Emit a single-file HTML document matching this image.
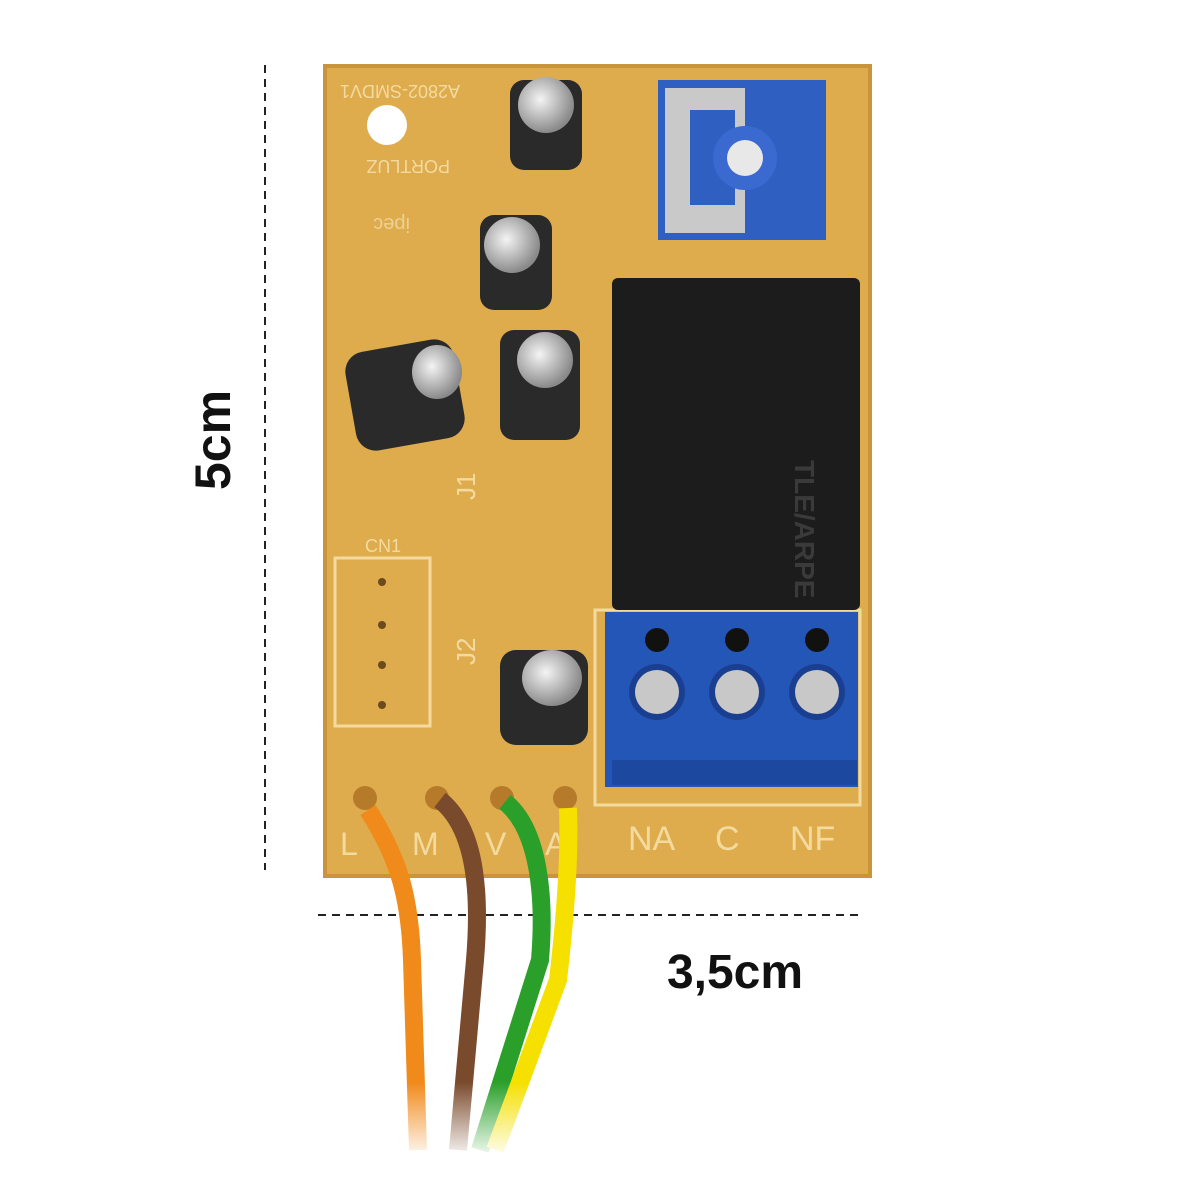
<!DOCTYPE html>
<html><head><meta charset="utf-8"><style>
html,body{margin:0;padding:0;background:#fff;}
svg{display:block}
text{font-family:"Liberation Sans",sans-serif}
</style></head><body>
<svg width="1200" height="1200" viewBox="0 0 1200 1200" xmlns="http://www.w3.org/2000/svg">
<defs>
<linearGradient id="fade" x1="0" y1="0" x2="0" y2="1">
<stop offset="0.7" stop-color="#fff" stop-opacity="0"/><stop offset="1" stop-color="#fff" stop-opacity="1"/>
</linearGradient>
<radialGradient id="capTop" cx="0.4" cy="0.4" r="0.6"><stop offset="0" stop-color="#f4f4f4"/><stop offset="1" stop-color="#8a8a8a"/></radialGradient>
</defs>
<line x1="265" y1="65" x2="265" y2="870" stroke="#222" stroke-width="2" stroke-dasharray="8,6"/>
<line x1="318" y1="915" x2="862" y2="915" stroke="#222" stroke-width="2" stroke-dasharray="8,6"/>
<text x="0" y="0" transform="translate(230,440) rotate(-90)" font-size="50" font-weight="bold" text-anchor="middle" fill="#111">5cm</text>
<text x="735" y="988" font-size="48" font-weight="bold" text-anchor="middle" fill="#111">3,5cm</text>
<rect x="325" y="66" width="545" height="810" fill="#dfac4d"/>
<rect x="325" y="66" width="545" height="810" fill="none" stroke="#c8953c" stroke-width="4"/>
<circle cx="387" cy="125" r="20" fill="#fff"/>
<text x="0" y="0" transform="translate(460,85) rotate(180)" font-size="18" fill="#f3dba0">A2802-SMDV1</text>
<text x="0" y="0" transform="translate(450,160) rotate(180)" font-size="18" fill="#f3dba0">PORTLUZ</text>
<text x="0" y="0" transform="translate(410,218) rotate(180)" font-size="20" fill="#ecd094">ipec</text>
<rect x="335" y="558" width="95" height="168" fill="none" stroke="#f3dba0" stroke-width="3"/>
<text x="365" y="552" font-size="18" fill="#f3dba0">CN1</text>
<circle cx="382" cy="582" r="4" fill="#6b4a1e"/><circle cx="382" cy="625" r="4" fill="#6b4a1e"/><circle cx="382" cy="665" r="4" fill="#6b4a1e"/><circle cx="382" cy="705" r="4" fill="#6b4a1e"/>
<text x="0" y="0" transform="translate(475,665) rotate(-90)" font-size="26" fill="#f3dba0">J2</text>
<text x="0" y="0" transform="translate(475,500) rotate(-90)" font-size="26" fill="#f3dba0">J1</text>
<rect x="595" y="610" width="265" height="195" fill="none" stroke="#f3dba0" stroke-width="3"/>
<g>
<rect x="510" y="80" width="72" height="90" rx="14" fill="#2a2a2a"/><ellipse cx="546" cy="105" rx="28" ry="28" fill="url(#capTop)"/>
<rect x="480" y="215" width="72" height="95" rx="14" fill="#2a2a2a"/><ellipse cx="512" cy="245" rx="28" ry="28" fill="url(#capTop)"/>
<rect x="500" y="330" width="80" height="110" rx="14" fill="#2a2a2a"/><ellipse cx="545" cy="360" rx="28" ry="28" fill="url(#capTop)"/>
<rect x="350" y="345" width="110" height="100" rx="20" fill="#2a2a2a" transform="rotate(-10 405 395)"/><ellipse cx="437" cy="372" rx="25" ry="27" fill="url(#capTop)"/>
<rect x="500" y="650" width="88" height="95" rx="16" fill="#2a2a2a"/><ellipse cx="552" cy="678" rx="30" ry="28" fill="url(#capTop)"/>
</g>
<rect x="658" y="80" width="168" height="160" fill="#2f5fc0"/>
<rect x="665" y="88" width="80" height="145" fill="#c9c9c9"/>
<rect x="690" y="110" width="45" height="95" fill="#2f5fc0"/>
<circle cx="745" cy="158" r="32" fill="#3a6ad0"/><circle cx="745" cy="158" r="18" fill="#e8e8e8"/>
<rect x="612" y="278" width="248" height="332" rx="6" fill="#1c1c1c"/>
<text x="0" y="0" transform="translate(795,460) rotate(90)" font-size="28" font-weight="bold" fill="#3a3a3a">TLE/ARPE</text>
<rect x="605" y="612" width="253" height="175" fill="#2456b8"/>
<rect x="612" y="760" width="245" height="25" fill="#1d48a0"/>
<circle cx="657" cy="640" r="12" fill="#111"/><circle cx="737" cy="640" r="12" fill="#111"/><circle cx="817" cy="640" r="12" fill="#111"/>
<circle cx="657" cy="692" r="28" fill="#1a3f90"/><circle cx="657" cy="692" r="22" fill="#c8c8c8"/>
<circle cx="737" cy="692" r="28" fill="#1a3f90"/><circle cx="737" cy="692" r="22" fill="#c8c8c8"/>
<circle cx="817" cy="692" r="28" fill="#1a3f90"/><circle cx="817" cy="692" r="22" fill="#c8c8c8"/>
<text x="628" y="850" font-size="34" fill="#f3dba0">NA</text>
<text x="715" y="850" font-size="34" fill="#f3dba0">C</text>
<text x="790" y="850" font-size="34" fill="#f3dba0">NF</text>
<text x="340" y="855" font-size="32" fill="#f3dba0">L</text>
<text x="412" y="855" font-size="32" fill="#f3dba0">M</text>
<text x="485" y="855" font-size="32" fill="#f3dba0">V</text>
<text x="545" y="855" font-size="32" fill="#f3dba0">A</text>
<circle cx="365" cy="798" r="12" fill="#b57b2b"/><circle cx="437" cy="798" r="12" fill="#b57b2b"/><circle cx="502" cy="798" r="12" fill="#b57b2b"/><circle cx="565" cy="798" r="12" fill="#b57b2b"/>
<path d="M368 810 C400 860 410 900 412 960 L418 1150" stroke="#f08a1a" stroke-width="18" fill="none"/>
<path d="M440 800 C478 830 480 900 475 960 L458 1150" stroke="#7a4a2c" stroke-width="18" fill="none"/>
<path d="M505 802 C540 830 545 900 540 960 L480 1150" stroke="#2aa02a" stroke-width="18" fill="none"/>
<path d="M568 808 C570 860 565 920 558 980 L495 1150" stroke="#f5e000" stroke-width="18" fill="none"/>
<rect x="340" y="900" width="260" height="260" fill="url(#fade)"/>
</svg>
</body></html>
